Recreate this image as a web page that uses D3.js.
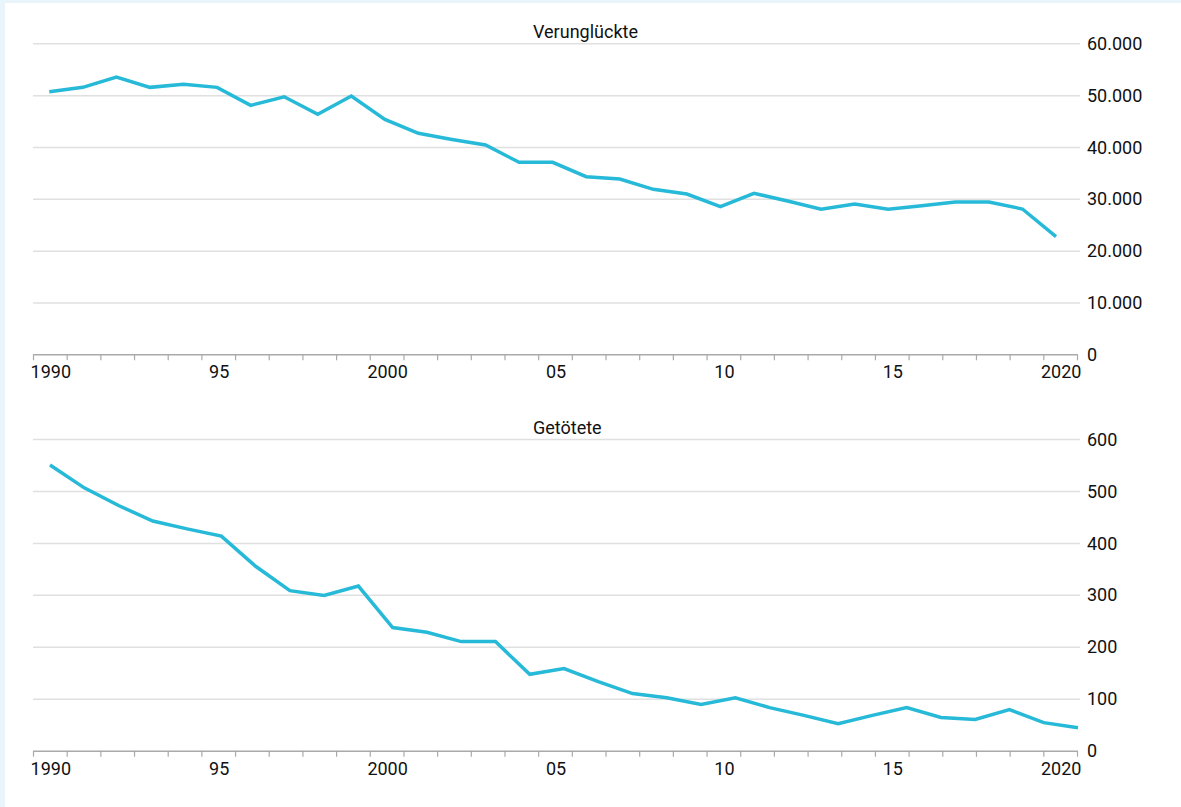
<!DOCTYPE html>
<html>
<head>
<meta charset="utf-8">
<script src="https://cdn.jsdelivr.net/npm/d3@7"></script>
<style>
	body { margin: 0; background: #e9f5fb; }
	svg { display: block; font-family: Roboto, sans-serif; }
</style>
</head>
<body>
<div id="chart"></div>
<script>
var years = d3.range(1990, 2021);
var verunglueckte = [
	50650, 51500, 53490, 51500, 52080, 51500, 48030, 49690, 46300, 49830,
	45330, 42630, 41450, 40370, 37040, 37040, 34260, 33820, 31830, 30920,
	28470, 31060, 29570, 27970, 28990, 27970, 28680, 29380, 29380, 28030,
	22690
];
var getoetete = [
	550, 506, 472, 442, 427, 413, 355, 308, 299, 317,
	237, 228, 210, 210, 147, 158, 133, 110, 102, 89,
	102, 83, 68, 52, 68, 83, 64, 60, 79, 54,
	44
];
var tickYears = [1990, 1995, 2000, 2005, 2010, 2015, 2020];
var tickLabels = ['1990', '95', '2000', '05', '10', '15', '2020'];

var WIDTH = 1181, HEIGHT = 807;
var AXIS_LEFT = 33, AXIS_RIGHT = 1077;
var LINE_COLOR = '#27b9d8';

var de = d3.formatLocale({decimal: ',', thousands: '.', grouping: [3], currency: ['', ' €']});

var svg = d3
	.select('#chart')
	.append('svg')
	.attr('width', WIDTH)
	.attr('height', HEIGHT)
	;
svg.append('rect')
	.attr('width', WIDTH)
	.attr('height', HEIGHT)
	.attr('fill', '#e9f5fb');
svg.append('rect')
	.attr('x', 5)
	.attr('y', 3)
	.attr('width', WIDTH - 5)
	.attr('height', HEIGHT - 3)
	.attr('fill', '#fff');

function drawPanel(cfg){
	var g = svg.append('g');

	var y = d3.scaleLinear()
	.domain([0, cfg.max])
	.range([cfg.bottom, cfg.top]);

	// Jahresgrenzen fuer die Teilstriche
	var xEdge = d3.scaleLinear()
	.domain([1989.5, 2020.5])
	.range([AXIS_LEFT, AXIS_RIGHT]);

	var xLine = d3.scaleLinear()
	.domain([1990, 2020])
	.range(cfg.lineRange);

	// Gitterlinien
	var grid = g.append('g')
	.attr('transform', 'translate(' + AXIS_LEFT + ',0)')
	.call(d3.axisRight(y)
		.ticks(6)
		.tickSize(1080 - AXIS_LEFT)
		.tickFormat(function(d){ return d === 0 ? '0' : de.format(',')(d); }));
	grid.select('.domain').remove();
	grid.selectAll('.tick line')
	.attr('stroke', '#e0e0e0')
	.attr('stroke-width', 1.5)
	.filter(function(d){ return d === 0; })
	.remove();
	grid.selectAll('.tick text')
	.attr('x', 1087 - AXIS_LEFT)
	.attr('dy', '0.34em')
	.attr('fill', '#111')
	.style('font-size', '18px')
	.style('font-family', 'Roboto, sans-serif');

	// x-Achse
	var xa = g.append('g')
	.attr('transform', 'translate(0,' + cfg.bottom + ')')
	.call(d3.axisBottom(xEdge)
		.tickValues(d3.range(1989.5, 2021, 1))
		.tickSize(6)
		.tickSizeOuter(0)
		.tickFormat(''));
	xa.select('.domain')
	.attr('stroke', '#aaa')
	.attr('stroke-width', 1.5);
	xa.selectAll('.tick line')
	.attr('stroke', '#aaa')
	.attr('stroke-width', 1.2);

	g.append('g')
	.selectAll('text')
	.data(tickYears)
	.enter()
	.append('text')
	.attr('x', function(d){ return xEdge(d) + 1; })
	.attr('y', cfg.bottom + 24)
	.attr('text-anchor', 'middle')
	.attr('fill', '#111')
	.style('font-size', '18px')
	.text(function(d, i){ return tickLabels[i]; });

	g.append('text')
	.attr('x', 533)
	.attr('y', cfg.titleY)
	.attr('fill', '#111')
	.style('font-size', '18px')
	.text(cfg.title);

	var line = d3.line()
	.x(function(d, i){ return xLine(years[i]); })
	.y(function(d){ return y(d); });

	g.append('path')
	.datum(cfg.values)
	.attr('fill', 'none')
	.attr('stroke', LINE_COLOR)
	.attr('stroke-width', 3.5)
	.attr('stroke-linejoin', 'miter')
	.attr('d', line);
}

drawPanel({
	title: 'Verunglückte',
	titleY: 38,
	values: verunglueckte,
	max: 60000,
	top: 43.3, bottom: 354.3,
	lineRange: [49.3, 1056]
});
drawPanel({
	title: 'Getötete',
	titleY: 434,
	values: getoetete,
	max: 600,
	top: 439, bottom: 750.7,
	lineRange: [50, 1078]
});
</script>
</body>
</html>
